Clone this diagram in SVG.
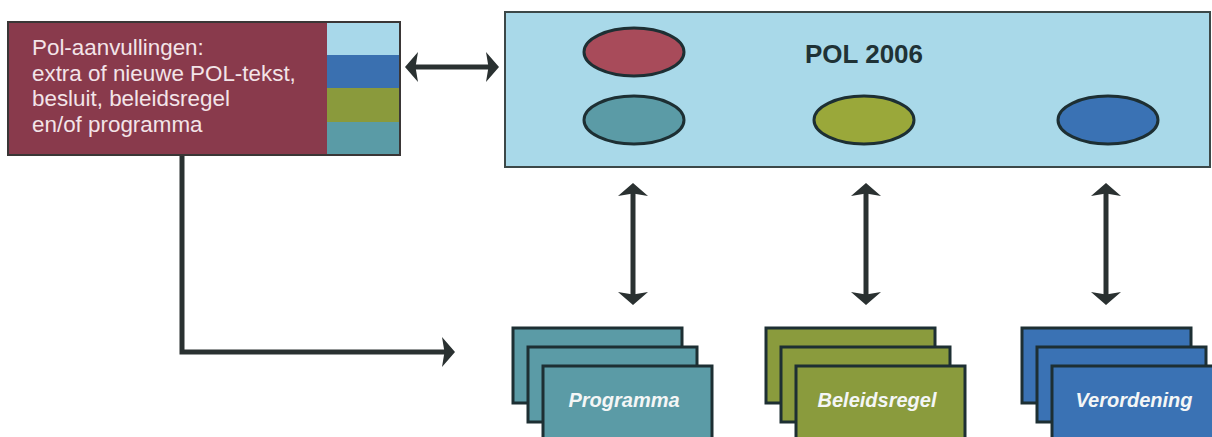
<svg xmlns="http://www.w3.org/2000/svg" width="1212" height="437" viewBox="0 0 1212 437">
<style>
.lbl{font-family:"Liberation Sans",Arial,sans-serif;font-size:22.4px;fill:#f3e4e8}
.title{font-family:"Liberation Sans",Arial,sans-serif;font-size:26px;font-weight:bold;fill:#1f3236}
.card{stroke:#1d2f33;stroke-width:3}
.ctext{font-family:"Liberation Sans",Arial,sans-serif;font-size:20px;font-weight:bold;font-style:italic;fill:#f4f6f6;text-anchor:middle}
.ell{stroke:#1d2f33;stroke-width:3}
.conn{fill:none;stroke:#2a3131;stroke-width:5}
.teal{fill:#5b9ba6}.olive{fill:#8a9b3d}.blue{fill:#3a72b4}
</style>
<defs>
<marker id="ah" viewBox="0 0 13 30" markerWidth="13" markerHeight="30" refX="5" refY="15" orient="auto-start-reverse" markerUnits="userSpaceOnUse">
<path d="M0,0 L13,15 L0,30 L2.5,15 Z" fill="#2a3131"/>
</marker>
</defs>
<rect width="1212" height="437" fill="#ffffff"/>
<g id="connectors">
<line class="conn" x1="413" y1="67" x2="491" y2="67" marker-start="url(#ah)" marker-end="url(#ah)"/>
<line class="conn" x1="633" y1="191" x2="633" y2="297" marker-start="url(#ah)" marker-end="url(#ah)"/>
<line class="conn" x1="866" y1="191" x2="866" y2="297" marker-start="url(#ah)" marker-end="url(#ah)"/>
<line class="conn" x1="1106" y1="191" x2="1106" y2="297" marker-start="url(#ah)" marker-end="url(#ah)"/>
<path class="conn" d="M182,156 V352 H447" marker-end="url(#ah)"/>
</g>
<g id="pol-aanvullingen">
<rect x="8" y="22" width="392" height="133" fill="#893a4c" stroke="#3a3636" stroke-width="2"/>
<rect x="327" y="23" width="72" height="32" fill="#a8d8ea"/>
<rect x="327" y="55" width="72" height="33" fill="#3a70b0"/>
<rect x="327" y="88" width="72" height="34" fill="#8a9a3c"/>
<rect x="327" y="122" width="72" height="32" fill="#5a9ba6"/>
<text class="lbl" x="32" y="55">Pol-aanvullingen:</text>
<text class="lbl" x="32" y="80.5">extra of nieuwe POL-tekst,</text>
<text class="lbl" x="32" y="106">besluit, beleidsregel</text>
<text class="lbl" x="32" y="131.5">en/of programma</text>
</g>
<g id="pol2006">
<rect x="505" y="12" width="705" height="155" fill="#a9d9e9" stroke="#3c4848" stroke-width="2"/>
<text class="title" x="864" y="63" text-anchor="middle">POL 2006</text>
<ellipse class="ell" cx="634" cy="52" rx="50" ry="24" fill="#a84b5a"/>
<ellipse class="ell teal" cx="634" cy="120" rx="50" ry="24"/>
<ellipse class="ell olive" cx="864" cy="120" rx="50" ry="24" style="fill:#9aa83a"/>
<ellipse class="ell blue" cx="1108" cy="120" rx="50" ry="24"/>
</g>
<g id="programma">
<rect class="card teal" x="513" y="328" width="169" height="75"/>
<rect class="card teal" x="528" y="347" width="169" height="75"/>
<rect class="card teal" x="543" y="366" width="169" height="75"/>
<text class="ctext" x="624" y="407">Programma</text>
</g>
<g id="beleidsregel">
<rect class="card olive" x="766" y="328" width="169" height="75"/>
<rect class="card olive" x="781" y="347" width="169" height="75"/>
<rect class="card olive" x="796" y="366" width="169" height="75"/>
<text class="ctext" x="877" y="407">Beleidsregel</text>
</g>
<g id="verordening">
<rect class="card blue" x="1022" y="328" width="169" height="75"/>
<rect class="card blue" x="1037" y="347" width="169" height="75"/>
<rect class="card blue" x="1052" y="366" width="169" height="75"/>
<text class="ctext" x="1134" y="407">Verordening</text>
</g>
</svg>
